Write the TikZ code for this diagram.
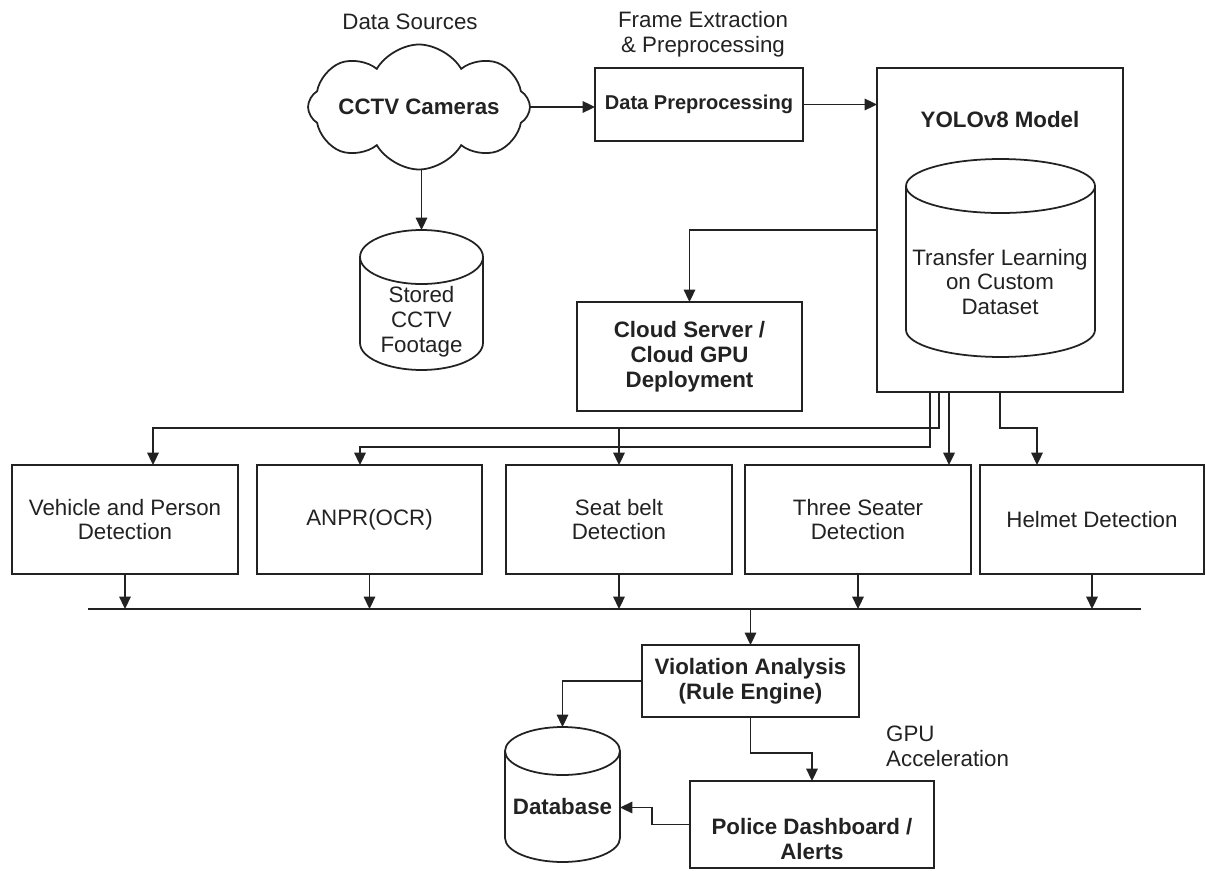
\documentclass[tikz,border=0pt]{standalone}
\usepackage{fontspec}
\setmainfont{Liberation Sans}
\usetikzlibrary{shapes.symbols, arrows.meta, positioning, calc}
\definecolor{inkgray}{RGB}{34, 34, 34}
\newcommand{\diagfont}{\fontsize{12.7}{14.2}\selectfont}
\newcommand{\prepfont}{\fontsize{11.4}{13}\selectfont}
% cylinder outline drawn over an empty frame node: node, half width, cap radius
\newcommand{\storeshape}[3]{%
  \draw[wire] ($(#1.north west)+(0,-#3)$) -- ($(#1.south west)+(0,#3)$)
    arc[start angle=180, end angle=360, x radius=#2, y radius=#3]
    -- ($(#1.north east)+(0,-#3)$)
    arc[start angle=0, end angle=180, x radius=#2, y radius=#3]
    ($(#1.north west)+(0,-#3)$) arc[start angle=180, end angle=360, x radius=#2, y radius=#3];}

\begin{document}
\begin{tikzpicture}[x=0.02cm, y=0.02cm,
  wire/.style={draw=inkgray, line width=1pt},
  flow/.style={wire, -{Triangle[length=7pt, width=6.5pt]}},
  stage/.style={draw=inkgray, line width=1pt, rectangle, inner sep=0pt, outer sep=0pt, align=center, text=inkgray, font=\diagfont\bfseries},
  detect/.style={stage, font=\diagfont, minimum height=2.18cm},
  storeframe/.style={rectangle, inner sep=0pt, outer sep=0pt},
  note/.style={font=\diagfont, text=inkgray, align=center}]
  \useasboundingbox (0,0) rectangle (1206,-871);

  % Sources
  \node[note] (srclbl) at (410,-22) {Data Sources};
  \node[cloud, draw=inkgray, line width=1pt, cloud puffs=8, cloud puff arc=120, aspect=1.78, minimum width=4.44cm, minimum height=2.5cm, inner sep=0pt] (cctv) at (419,-107) {};
  \node[note, font=\diagfont\bfseries] (cctvtxt) at (cctv.center) {CCTV Cameras};
  \node[storeframe, minimum width=2.46cm, minimum height=2.8cm] (stored) at (421.5,-300) {};
  \storeshape{stored}{1.23cm}{0.54cm}
  \node[note] (storedtxt) at (421.5,-322) {Stored\\CCTV\\Footage};

  % Preprocessing
  \node[note] (framelbl) at (703,-34.5) {Frame Extraction\\\& Preprocessing};
  \node[stage, font=\prepfont\bfseries, minimum width=4.16cm, minimum height=1.46cm] (prep) at (699,-104.5) {Data Preprocessing};

  % Model
  \node[stage, minimum width=4.92cm, minimum height=6.48cm] (yolo) at (1000,-230) {};
  \node[note, font=\diagfont\bfseries] (yolotxt) at (1000,-120) {YOLOv8 Model};
  \node[storeframe, minimum width=3.78cm, minimum height=3.96cm] (xfer) at (1000.5,-258) {};
  \storeshape{xfer}{1.89cm}{0.54cm}
  \node[note] (xfertxt) at (1000,-282) {Transfer Learning\\on Custom\\Dataset};

  % Deployment
  \node[stage, minimum width=4.5cm, minimum height=2.18cm] (cloudsrv) at (689.5,-356.5) {Cloud Server /\\Cloud GPU\\Deployment};

  % Detection modules
  \node[detect, minimum width=4.52cm] (veh) at (125,-519.5) {Vehicle and Person\\Detection};
  \node[detect, minimum width=4.5cm] (anpr) at (369.5,-519.5) {ANPR(OCR)};
  \node[detect, minimum width=4.52cm] (seat) at (619,-519.5) {Seat belt\\Detection};
  \node[detect, minimum width=4.52cm] (three) at (858,-519.5) {Three Seater\\Detection};
  \node[detect, minimum width=4.48cm] (helmet) at (1092,-519.5) {Helmet Detection};

  % Analysis and output
  \node[stage, minimum width=4.34cm, minimum height=1.44cm] (viol) at (750.5,-681) {Violation Analysis\\(Rule Engine)};
  \node[storeframe, minimum width=2.3cm, minimum height=2.7cm] (db) at (562.5,-794.5) {};
  \storeshape{db}{1.15cm}{0.48cm}
  \node[note, font=\diagfont\bfseries] (dbtxt) at (562.5,-807) {Database};
  \node[stage, minimum width=4.88cm, minimum height=1.74cm] (police) at (812,-824.5) {\rule{0pt}{26pt}Police Dashboard /\\Alerts};
  \node[note, align=left, anchor=west] (gpulbl) at (880,-746.5) {GPU\\Acceleration};

  % Upper flow
  \draw[flow] (cctv.east) -- (cctv.east -| prep.west);
  \draw[flow] (prep.east) -- (prep.east -| yolo.west);
  \draw[flow] (stored.north |- cctv.south) -- (stored.north);
  \draw[flow] (yolo.west) -| (cloudsrv.north);

  % Model to detectors
  \coordinate (tapA) at ($(yolo.south west)+(53,0)$);
  \coordinate (tapB) at ($(yolo.south west)+(62,0)$);
  \coordinate (tapC) at ($(yolo.south west)+(72,0)$);
  \coordinate (rowA) at (0,-428);
  \coordinate (rowB) at (0,-447);
  \draw[flow] (tapB) -- (tapB |- rowA) -| ($(veh.north)+(28,0)$);
  \draw[flow] (tapB) -- (tapB |- rowA) -| (seat.north);
  \draw[flow] (tapA) -- (tapA |- rowB) -| ($(anpr.north)+(-9.5,0)$);
  \draw[flow] (tapC) -- (tapC |- three.north);
  \draw[flow] (yolo.south) -- (yolo.south |- rowA) -| ($(helmet.north)+(-55,0)$);

  % Collector bus
  \coordinate (busL) at (88,-609);
  \coordinate (busR) at (1141,-609);
  \draw[wire] (busL) -- (busR);
  \foreach \d in {veh, anpr, seat, three, helmet}
    \draw[flow] (\d.south) -- (\d.south |- busL);
  \draw[flow] (viol.north |- busL) -- (viol.north);

  % Lower flow
  \draw[flow] (viol.west) -| (db.north);
  \draw[flow] (viol.south) -- ++(0,-36) -| (police.north);
  \draw[flow] (police.west) -- ++(-38,0) |- ($(db.east)+(0,-13)$);
\end{tikzpicture}
\end{document}
